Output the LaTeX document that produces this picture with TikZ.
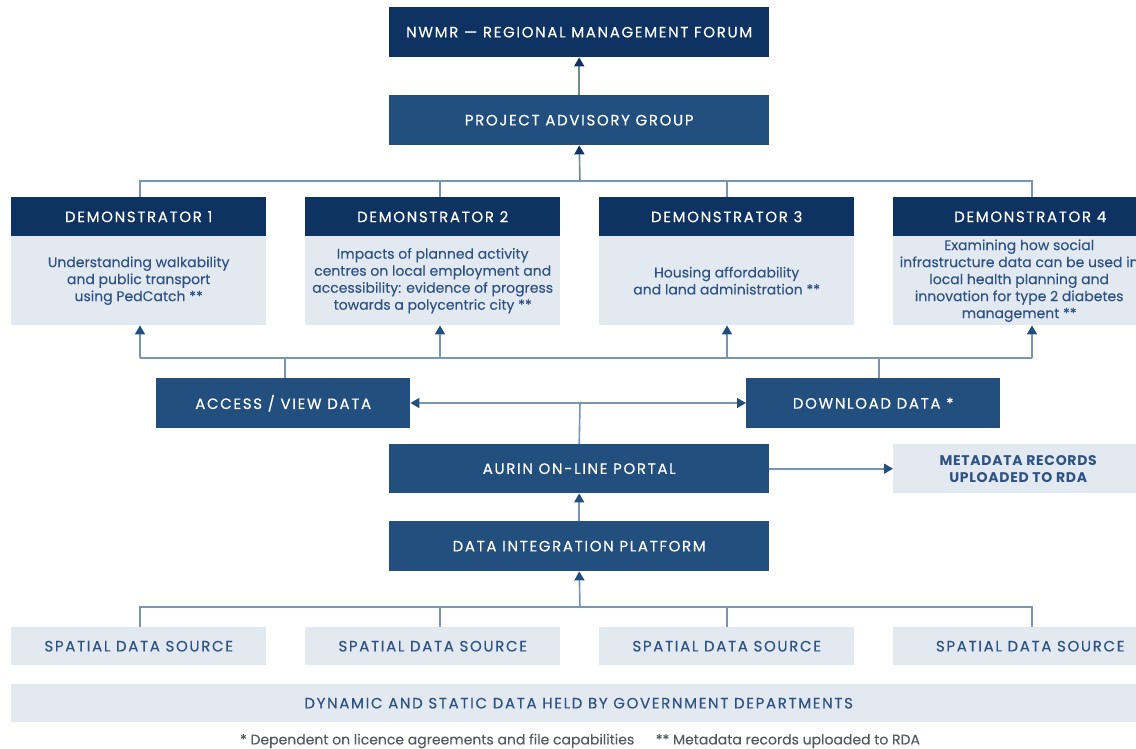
\documentclass[tikz,border=0pt]{standalone}
\usepackage{fontspec}
\setmainfont{Poppins}[FakeBold=0.1]
\newfontfamily\capfont[LetterSpace=11, FakeBold=0.3]{Poppins}
\newfontfamily\metafont[LetterSpace=5]{Poppins}
\usetikzlibrary{arrows.meta}
\definecolor{navy}{HTML}{0E3363}
\definecolor{midnavy}{HTML}{234F7E}
\definecolor{lightfill}{HTML}{E2E9F1}
\definecolor{txtblue}{HTML}{2D5283}
\definecolor{linec}{HTML}{7895B8}
\definecolor{greenline}{HTML}{6F8F86}
\definecolor{footgray}{HTML}{555A60}
\tikzset{
  basebox/.style={rectangle, inner sep=0pt, align=center, anchor=north west},
  darkbox/.style={basebox, fill=navy, text=white, font=\capfont\fontsize{15}{17}\selectfont},
  midbox/.style={basebox, fill=midnavy, text=white, font=\capfont\fontsize{15}{17}\selectfont},
  lightbox/.style={basebox, fill=lightfill, text=txtblue, font=\fontsize{14}{17}\selectfont},
  capbox/.style={basebox, fill=lightfill, text=txtblue, font=\capfont\fontsize{15}{17}\selectfont},
  conn/.style={draw=linec, line width=1.6pt},
  arr/.style={conn, -{Triangle[width=10pt,length=9pt,color=midnavy]}},
  arrboth/.style={conn, {Triangle[width=10pt,length=9pt,color=midnavy]}-{Triangle[width=10pt,length=9pt,color=midnavy]}},
}
\begin{document}
\begin{tikzpicture}[x=1pt,y=-1pt]
\useasboundingbox (0,0) rectangle (1136,749);
\clip (0,0) rectangle (1136,749);
% top
\node[darkbox, minimum width=380pt, minimum height=50pt] (nwmr) at (389,7) {NWMR — REGIONAL MANAGEMENT FORUM};
\node[midbox, minimum width=380pt, minimum height=50pt] (pag) at (389,95) {PROJECT ADVISORY GROUP};
% demonstrators
\node[darkbox, minimum width=255pt, minimum height=39pt] (d1h) at (11,197) {DEMONSTRATOR 1};
\node[darkbox, minimum width=255pt, minimum height=39pt] (d2h) at (305,197) {DEMONSTRATOR 2};
\node[darkbox, minimum width=255pt, minimum height=39pt] (d3h) at (599,197) {DEMONSTRATOR 3};
\node[darkbox, minimum width=274pt, minimum height=39pt] (d4h) at (893,197) {DEMONSTRATOR 4};
\node[lightbox, minimum width=255pt, minimum height=89pt] (d1b) at (11,236) {Understanding walkability\\and public transport\\using PedCatch **};
\node[lightbox, minimum width=255pt, minimum height=89pt] (d2b) at (305,236) {Impacts of planned activity\\centres on local employment and\\accessibility: evidence of progress\\towards a polycentric city **};
\node[lightbox, minimum width=255pt, minimum height=89pt] (d3b) at (599,236) {Housing affordability\\and land administration **};
\node[lightbox, minimum width=252pt, minimum height=89pt] (d4b) at (893,236) {Examining how social\\infrastructure data can be used in\\local health planning and\\innovation for type 2 diabetes\\management **};
% middle
\node[midbox, minimum width=254pt, minimum height=50pt] (access) at (156,378) {ACCESS / VIEW DATA};
\node[midbox, minimum width=254pt, minimum height=50pt] (download) at (746,378) {DOWNLOAD DATA *};
\node[midbox, minimum width=380pt, minimum height=49pt] (aurin) at (389,444) {AURIN ON-LINE PORTAL};
\node[capbox, minimum width=250pt, minimum height=49pt, font=\metafont\bfseries\fontsize{14}{17}\selectfont] (meta) at (893,444) {METADATA RECORDS\\UPLOADED TO RDA};
\node[midbox, minimum width=380pt, minimum height=50pt] (dip) at (389,521) {DATA INTEGRATION PLATFORM};
% sources
\node[capbox, minimum width=255pt, minimum height=38pt] (s1) at (11,627) {SPATIAL DATA SOURCE};
\node[capbox, minimum width=255pt, minimum height=38pt] (s2) at (305,627) {SPATIAL DATA SOURCE};
\node[capbox, minimum width=255pt, minimum height=38pt] (s3) at (599,627) {SPATIAL DATA SOURCE};
\node[capbox, minimum width=274pt, minimum height=38pt] (s4) at (893,627) {SPATIAL DATA SOURCE};
\node[capbox, minimum width=1135pt, minimum height=38pt] (gov) at (11,684) {DYNAMIC AND STATIC DATA HELD BY GOVERNMENT DEPARTMENTS};
\node[text=footgray, font=\fontsize{14}{15}\selectfont, anchor=center] (foot) at (580,741) {* Dependent on licence agreements and file capabilities\quad\ \ ** Metadata records uploaded to RDA};
% bus coordinates
\coordinate (tb1) at (140,181); \coordinate (tb2) at (440,181); \coordinate (tb3) at (727,181); \coordinate (tb4) at (1032,181); \coordinate (tbc) at (580,181);
\coordinate (mb1) at (140,358); \coordinate (mb2) at (440,358); \coordinate (mb3) at (727,358); \coordinate (mb4) at (1032,358);
\coordinate (ma) at (285,358); \coordinate (md) at (879,358);
\coordinate (hb) at (580,403);
\coordinate (bb1) at (140,607); \coordinate (bb2) at (440,607); \coordinate (bb3) at (727,607); \coordinate (bb4) at (1032,607); \coordinate (bbc) at (580,607);
% connectors top
\draw[conn, draw=greenline, -{Triangle[width=10pt,length=9pt,color=navy]}] (pag.north) -- (nwmr.south);
\draw[conn, draw=greenline, -{Triangle[width=10pt,length=9pt,color=navy]}] (tbc) -- (pag.south);
\draw[conn] (tb1 |- d1h.north) -- (tb1) -- (tb4) -- (tb4 |- d4h.north);
\draw[conn] (tb2) -- (tb2 |- d2h.north);
\draw[conn] (tb3) -- (tb3 |- d3h.north);
% lower demonstrator bus
\draw[arr] (mb1) -- (mb1 |- d1b.south);
\draw[arr] (mb2) -- (mb2 |- d2b.south);
\draw[arr] (mb3) -- (mb3 |- d3b.south);
\draw[arr] (mb4) -- (mb4 |- d4b.south);
\draw[conn] (mb1) -- (mb4);
\draw[conn] (ma |- access.north) -- (ma);
\draw[conn] (md |- download.north) -- (md);
% access/download
\draw[arrboth] (access.east |- hb) -- (download.west |- hb);
\draw[conn] (aurin.north) -- (hb);
\draw[arr] (aurin.east) -- (meta.west);
\draw[arr] (dip.north) -- (aurin.south);
% bottom bus
\draw[arr] (bbc) -- (dip.south);
\draw[conn] (bb1 |- s1.north) -- (bb1) -- (bb4) -- (bb4 |- s4.north);
\draw[conn] (bb2) -- (bb2 |- s2.north);
\draw[conn] (bb3) -- (bb3 |- s3.north);
\end{tikzpicture}
\end{document}
